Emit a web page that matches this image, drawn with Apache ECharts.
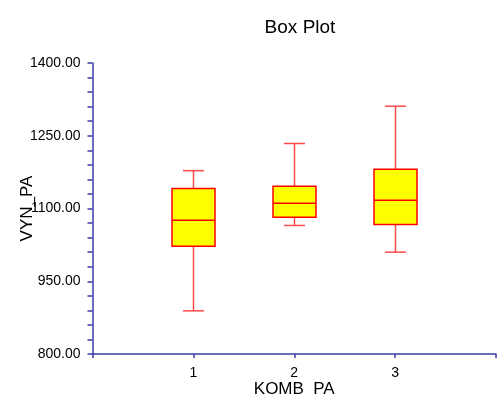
<!DOCTYPE html>
<html>
<head>
<meta charset="utf-8">
<script src="https://cdn.jsdelivr.net/npm/echarts@6/dist/echarts.min.js"></script>
<style>
  html, body { margin: 0; padding: 0; background: #fff; }
  #chart { width: 497px; height: 398px; }
</style>
</head>
<body>
<div id="chart"></div>
<script>
// groups on the x axis
var categories = [1, 2, 3];
// five-number summary per group
var mins = [889, 1065, 1010];
var q1s = [1022, 1082, 1067];
var medians = [1076, 1111, 1117];
var q3s = [1141, 1146, 1181];
var maxs = [1178, 1234, 1311];
// y tick labels
var yTicks = [800, 950, 1100, 1250, 1400];

var font = "'Liberation Sans', Arial, sans-serif";
var axisColor = "#3c3ca8";

var boxData = categories.map(function(c, i) {
  return [c, mins[i], q1s[i], medians[i], q3s[i], maxs[i]];
});

function renderBox(params, api) {
  var x = api.value(0);
  var pMin = api.coord([x, api.value(1)]);
  var pQ1 = api.coord([x, api.value(2)]);
  var pMed = api.coord([x, api.value(3)]);
  var pQ3 = api.coord([x, api.value(4)]);
  var pMax = api.coord([x, api.value(5)]);
  var half = 21.5;
  var cap = 10.5;
  var cx = Math.round(pMed[0]) + 0.5;
  var whisker = { stroke: "#ff4a4a", lineWidth: 1.5 };
  return {
    type: "group",
    children: [
      { type: "line", shape: { x1: cx, y1: pMax[1], x2: cx, y2: pQ3[1] }, style: whisker },
      { type: "line", shape: { x1: cx, y1: pQ1[1], x2: cx, y2: pMin[1] }, style: whisker },
      { type: "line", shape: { x1: cx - cap, y1: pMax[1], x2: cx + cap, y2: pMax[1] }, style: whisker },
      { type: "line", shape: { x1: cx - cap, y1: pMin[1], x2: cx + cap, y2: pMin[1] }, style: whisker },
      {
        type: "rect",
        shape: { x: cx - half, y: pQ3[1], width: half * 2, height: pQ1[1] - pQ3[1] },
        style: { fill: "#ffff00", stroke: "#ff0000", lineWidth: 1.5 }
      },
      {
        type: "line",
        shape: { x1: cx - half, y1: pMed[1], x2: cx + half, y2: pMed[1] },
        style: { stroke: "#ff0000", lineWidth: 1.5 }
      }
    ]
  };
}

var chart = echarts.init(document.getElementById("chart"));
chart.setOption({
  animation: false,
  backgroundColor: "#fff",
  title: {
    text: "Box Plot",
    left: 295,
    top: 13,
    textAlign: "center",
    textStyle: { fontFamily: font, fontSize: 19, fontWeight: "normal", color: "#000" }
  },
  grid: { left: 92.5, right: 1, top: 63, bottom: 44, containLabel: false, outerBoundsMode: "none" },
  xAxis: {
    type: "value",
    min: 0,
    max: categories.length + 1,
    interval: 1,
    name: "KOMB  PA",
    nameLocation: "middle",
    nameGap: 27,
    nameMoveOverlap: false,
    nameTextStyle: { fontFamily: font, fontSize: 17, color: "#000" },
    axisLine: { show: true, lineStyle: { color: axisColor, width: 1.5 } },
    axisTick: { show: true, inside: false, length: 4, lineStyle: { color: axisColor, width: 1.5 } },
    axisLabel: {
      margin: 12,
      fontFamily: font,
      fontSize: 14,
      color: "#000",
      formatter: function(v) {
        return categories.indexOf(v) >= 0 ? String(v) : "";
      }
    },
    splitLine: { show: false }
  },
  yAxis: {
    type: "value",
    min: yTicks[0],
    max: yTicks[yTicks.length - 1],
    interval: yTicks[1] - yTicks[0],
    name: "VYN_PA",
    nameLocation: "middle",
    nameGap: 57,
    nameMoveOverlap: false,
    nameTextStyle: { fontFamily: font, fontSize: 17, color: "#000" },
    axisLine: { show: true, lineStyle: { color: axisColor, width: 1.5 } },
    axisTick: { show: true, inside: false, length: 5, lineStyle: { color: axisColor, width: 1.5 } },
    minorTick: { show: true, splitNumber: 5, length: 5, lineStyle: { color: axisColor, width: 1.5 } },
    axisLabel: {
      margin: 12,
      fontFamily: font,
      fontSize: 14,
      color: "#000",
      formatter: function(v) { return v.toFixed(2); }
    },
    splitLine: { show: false },
    minorSplitLine: { show: false }
  },
  series: [
    {
      type: "custom",
      renderItem: renderBox,
      encode: { x: 0, y: [1, 2, 3, 4, 5] },
      data: boxData
    }
  ]
});
</script>
</body>
</html>
